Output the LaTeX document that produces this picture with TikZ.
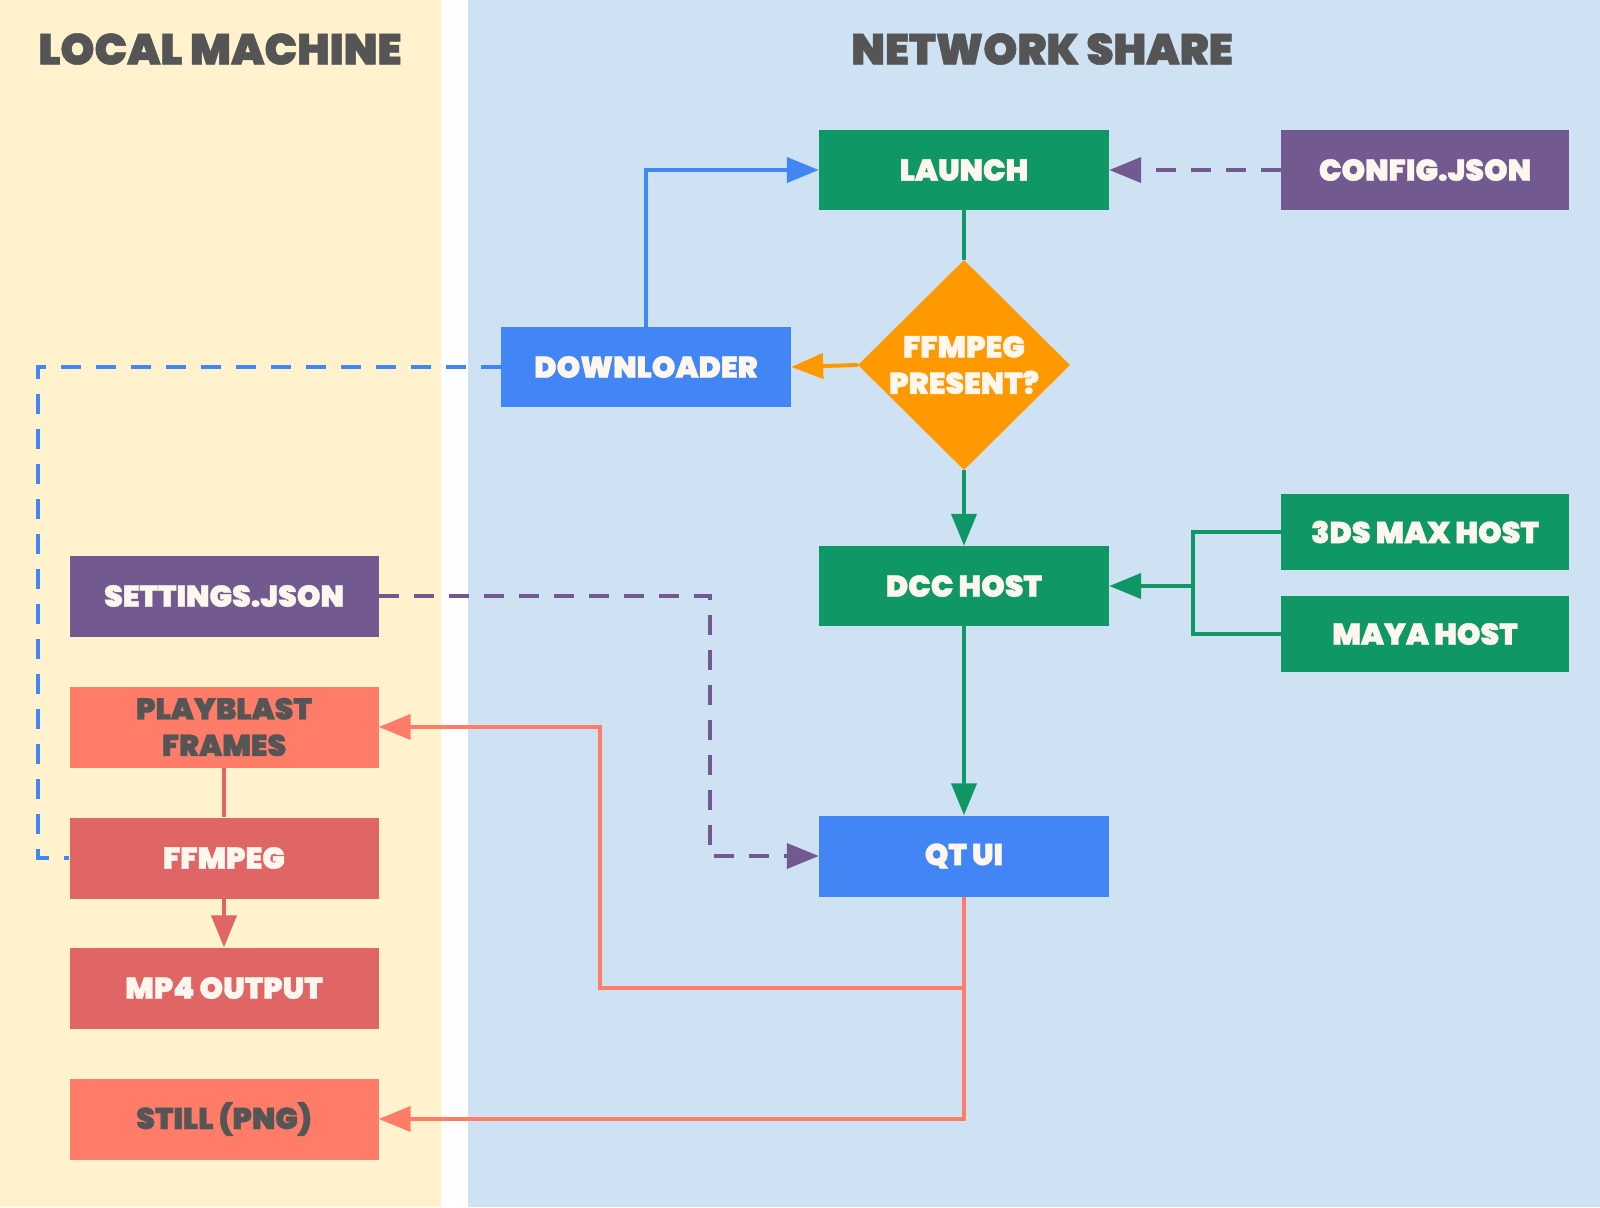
\documentclass[tikz,border=0pt]{standalone}
\usepackage{fontspec}
\newfontfamily\popfont{Poppins Black}[FakeBold=1.2]
\usetikzlibrary{arrows.meta,shapes.geometric}
\definecolor{panelY}{HTML}{FFF2CC}
\definecolor{panelB}{HTML}{CFE2F3}
\definecolor{cgreen}{HTML}{0F9866}
\definecolor{cblue}{HTML}{4285F4}
\definecolor{corange}{HTML}{FF9900}
\definecolor{cpurple}{HTML}{725A91}
\definecolor{csalmon}{HTML}{FF7D68}
\definecolor{cred}{HTML}{E06666}
\definecolor{ctext}{HTML}{FFF6EE}
\definecolor{cgray}{HTML}{555555}
\tikzset{
  box/.style={rectangle, inner sep=0pt, minimum width=290pt, minimum height=80pt,
    font=\popfont\fontsize{30}{36.5}\selectfont, text=ctext, align=center},
  lbox/.style={box, minimum width=309pt, minimum height=81pt},
  rbox/.style={box, minimum width=288pt},
  title/.style={font=\popfont\fontsize{43.3}{48}\selectfont, text=cgray},
  conn/.style={line width=4pt},
  tip/.style={-{Triangle[length=32pt,width=25pt]}},
  dashpat/.style={dash pattern=on 20pt off 15pt},
}
\begin{document}
\begin{tikzpicture}[x=1pt,y=-1pt]
\useasboundingbox (0,0) rectangle (1600,1207);
\fill[white] (0,0) rectangle (1600,1207);
\fill[panelY] (0,0) rectangle (441,1207);
\fill[panelB] (468,0) rectangle (1600,1207);

\node[title] (tlocal) at (220,49) {LOCAL MACHINE};
\node[title] (tnet) at (1042,49) {NETWORK SHARE};

% network share nodes
\node[box, fill=cgreen] (launch) at (964,170) {LAUNCH};
\node[rbox, fill=cpurple] (config) at (1425,170) {CONFIG.JSON};
\node[box, fill=cblue] (down) at (646,367) {DOWNLOADER};
\node[diamond, fill=corange, inner sep=0pt, minimum width=212pt, minimum height=210pt,
  font=\popfont\fontsize{30}{36.5}\selectfont, text=ctext, align=center] (dia) at (964,365) {FFMPEG\\PRESENT?};
\node[box, fill=cgreen] (dcc) at (964,586) {DCC HOST};
\node[rbox, fill=cgreen, minimum height=76pt] (max) at (1425,532) {3DS MAX HOST};
\node[rbox, fill=cgreen, minimum height=76pt] (maya) at (1425,634) {MAYA HOST};
\node[box, fill=cblue, minimum height=81pt] (qt) at (964,856) {QT UI};

% local machine nodes
\node[lbox, fill=cpurple] (set) at (224,596) {SETTINGS.JSON};
\node[lbox, fill=csalmon, text=cgray] (pb) at (224,727) {PLAYBLAST\\FRAMES};
\node[lbox, fill=cred] (ffm) at (224,858) {FFMPEG};
\node[lbox, fill=cred] (mp4) at (224,988) {MP4 OUTPUT};
\node[lbox, fill=csalmon, text=cgray] (still) at (224,1119) {STILL (PNG)};

% connectors
\draw[conn, cblue, tip] (down.north) |- (launch.west);
\draw[conn, cpurple, dashpat, tip] (config.west) -- (launch.east);
\draw[conn, cgreen] (launch.south) -- (dia.north);
\draw[conn, corange, tip] (dia.west) -- (down.east);
\draw[conn, cgreen, tip] (dia.south) -- (dcc.north);
\path (dcc.east) ++(84,0) coordinate (br);
\draw[conn, cgreen, tip] (max.west) -| (br) -- (dcc.east);
\draw[conn, cgreen] (maya.west) -| (br);
\draw[conn, cgreen, tip] (dcc.south) -- (qt.north);

\coordinate (bl) at (38,367);
\draw[conn, cblue, dashpat] (down.west) -- (bl) |- (ffm.west);
\coordinate (pr) at (710,596);
\draw[conn, cpurple, dashpat, tip] (set.east) -- (pr) |- (qt.west);

\draw[conn, cred] (pb.south) -- (ffm.north);
\draw[conn, cred, tip] (ffm.south) -- (mp4.north);

\coordinate (s1) at (964,988);
\coordinate (s2) at (600,988);
\draw[conn, csalmon, tip] (qt.south) -- (s1) -- (s2) |- (pb.east);
\draw[conn, csalmon, tip] (qt.south) |- (still.east);
\end{tikzpicture}
\end{document}
